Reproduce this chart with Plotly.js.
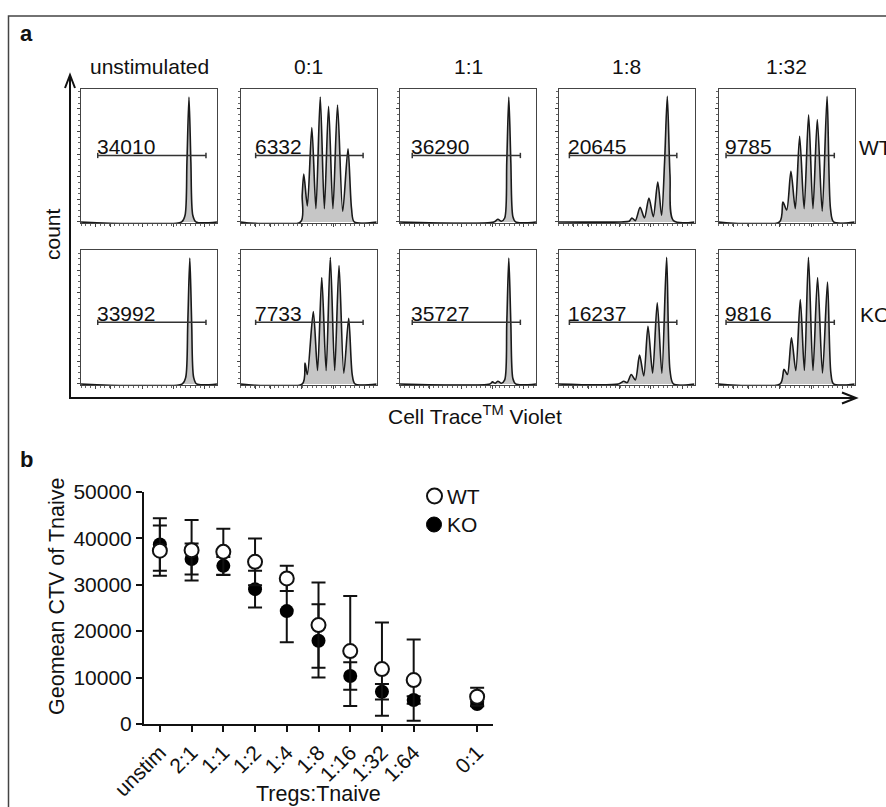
<!DOCTYPE html>
<html>
<head>
<meta charset="utf-8">
<script src="https://cdn.plot.ly/plotly-3.0.1.min.js"></script>
<style>html,body{margin:0;padding:0;background:#fff;}#chart{width:886px;height:807px;}</style>
</head>
<body>
<div id="chart"></div>
<script>
// ---------- Panel a data (histogram outlines, fraction of box) ----------
const columnTitles = ['unstimulated', '0:1', '1:1', '1:8', '1:32'];
const rowLabels = ['WT', 'KO'];
const gateValuesWT = [34010, 6332, 36290, 20645, 9785];
const gateValuesKO = [33992, 7733, 35727, 16237, 9816];

const wtUnstimX = [0, 0.74, 0.765, 0.779, 0.794, 0.808, 0.822, 0.845, 1];
const wtUnstimY = [0, 0, 0.05, 0.45, 0.94, 0.45, 0.05, 0, 0];
const wt01X = [0, 0.44, 0.452, 0.464, 0.49, 0.523, 0.553, 0.585, 0.615, 0.646, 0.678, 0.712, 0.75, 0.789, 0.815, 0.835, 1];
const wt01Y = [0, 0, 0.2, 0.36, 0.12, 0.71, 0.1, 0.94, 0.1, 0.87, 0.1, 0.88, 0.08, 0.55, 0.1, 0, 0];
const wt11X = [0, 0.69, 0.72, 0.745, 0.77, 0.785, 0.80, 0.815, 0.83, 0.85, 1];
const wt11Y = [0, 0, 0.02, 0.005, 0.03, 0.45, 0.94, 0.45, 0.04, 0, 0];
const wt18X = [0, 0.46, 0.52, 0.54, 0.565, 0.60, 0.632, 0.665, 0.697, 0.73, 0.758, 0.78, 0.80, 0.82, 0.845, 1];
const wt18Y = [0, 0, 0.005, 0.03, 0.01, 0.11, 0.03, 0.18, 0.04, 0.30, 0.05, 0.45, 0.945, 0.35, 0.01, 0];
const wt132X = [0, 0.447, 0.472, 0.50, 0.531, 0.563, 0.595, 0.628, 0.661, 0.693, 0.725, 0.761, 0.797, 0.822, 0.845, 1];
const wt132Y = [0, 0, 0.15, 0.09, 0.38, 0.1, 0.645, 0.1, 0.805, 0.1, 0.77, 0.08, 0.945, 0.1, 0, 0];

const koUnstimX = [0, 0.745, 0.77, 0.785, 0.80, 0.814, 0.828, 0.85, 1];
const koUnstimY = [0, 0, 0.05, 0.45, 0.94, 0.45, 0.05, 0, 0];
const ko01X = [0, 0.453, 0.473, 0.49, 0.534, 0.565, 0.596, 0.628, 0.659, 0.691, 0.723, 0.758, 0.794, 0.82, 0.84, 1];
const ko01Y = [0, 0, 0.155, 0.07, 0.54, 0.1, 0.795, 0.1, 0.945, 0.1, 0.884, 0.08, 0.49, 0.07, 0, 0];
const ko11X = [0, 0.66, 0.68, 0.70, 0.72, 0.745, 0.77, 0.785, 0.80, 0.815, 0.83, 0.85, 1];
const ko11Y = [0, 0, 0.015, 0.005, 0.02, 0.005, 0.03, 0.45, 0.94, 0.45, 0.04, 0, 0];
const ko18X = [0, 0.44, 0.48, 0.505, 0.535, 0.565, 0.596, 0.627, 0.658, 0.692, 0.726, 0.76, 0.795, 0.82, 0.845, 1];
const ko18Y = [0, 0, 0.02, 0.01, 0.07, 0.03, 0.215, 0.06, 0.43, 0.08, 0.605, 0.08, 0.945, 0.1, 0, 0];
const ko132X = [0, 0.452, 0.48, 0.505, 0.535, 0.567, 0.60, 0.63, 0.66, 0.693, 0.727, 0.763, 0.80, 0.825, 0.845, 1];
const ko132Y = [0, 0, 0.11, 0.07, 0.345, 0.1, 0.63, 0.1, 0.945, 0.1, 0.795, 0.08, 0.76, 0.08, 0, 0];

// ---------- Panel b data ----------
const ratios = ['unstim', '2:1', '1:1', '1:2', '1:4', '1:8', '1:16', '1:32', '1:64', '0:1'];
const ratioSlot = [0, 1, 2, 3, 4, 5, 6, 7, 8, 10];
const wtMean = [37300, 37400, 37050, 34900, 31340, 21300, 15700, 11830, 9460, 5880];
const wtErr  = [5400, 6500, 5000, 5030, 2700, 9170, 11830, 10040, 8750, 1930];
const koMean = [38650, 35500, 34040, 29030, 24300, 17910, 10330, 6950, 5160, 4300];
const koErr  = [5650, 3340, 1900, 3940, 6730, 7890, 2940, 1650, 800, 500];

// ---------- helpers ----------
const W = 886, H = 807;
const px = x => x / W;
const py = y => 1 - y / H;
const FONT = 'Liberation Sans, Arial, Helvetica, sans-serif';

const histRows = [
  [[wtUnstimX, wtUnstimY], [wt01X, wt01Y], [wt11X, wt11Y], [wt18X, wt18Y], [wt132X, wt132Y]],
  [[koUnstimX, koUnstimY], [ko01X, ko01Y], [ko11X, ko11Y], [ko18X, ko18Y], [ko132X, ko132Y]]
];
const gateRows = [gateValuesWT, gateValuesKO];

const boxLeft = [81, 240.7, 400, 558.5, 718.7];
const boxW = 136;
const rowTop = [89, 250];
const rowBottom = [223, 385];
const gateStart = [0.123, 0.11, 0.09, 0.08, 0.054];
const gateEnd = [0.919, 0.90, 0.885, 0.87, 0.85];
const gateY = [0.50, 0.46];

const traces = [];
const layout = {
  width: W, height: H,
  margin: {l: 0, r: 0, t: 0, b: 0},
  paper_bgcolor: '#fff', plot_bgcolor: 'rgba(0,0,0,0)',
  showlegend: false,
  font: {family: FONT, color: '#111', size: 20},
  shapes: [], annotations: []
};

let k = 2;
for (let r = 0; r < 2; r++) {
  for (let c = 0; c < 5; c++) {
    const xa = 'xaxis' + k, ya = 'yaxis' + k;
    const xr = 'x' + k, yr = 'y' + k;
    layout[xa] = {
      domain: [px(boxLeft[c]), px(boxLeft[c] + boxW)], range: [0, 1], anchor: yr,
      showline: true, mirror: true, linecolor: '#444', linewidth: 1,
      ticks: 'outside', ticklen: 3, tickcolor: '#444', tickwidth: 1,
      tickvals: [0.11, 0.22, 0.45, 0.68, 0.91], showticklabels: false,
      minor: {ticks: 'outside', ticklen: 2, tickcolor: '#666', dtick: 0.035, tick0: 0},
      showgrid: false, zeroline: false, fixedrange: true
    };
    layout[ya] = {
      domain: [py(rowBottom[r]), py(rowTop[r])], range: [-0.008, 1], anchor: xr,
      showline: true, mirror: true, linecolor: '#444', linewidth: 1,
      ticks: 'outside', ticklen: 3, tickcolor: '#444', tickwidth: 1,
      dtick: 0.17, tick0: 0, showticklabels: false,
      minor: {ticks: 'outside', ticklen: 2, tickcolor: '#666', dtick: 0.0425, tick0: 0},
      showgrid: false, zeroline: false, fixedrange: true
    };
    const [hx, hy] = histRows[r][c];
    traces.push({
      type: 'scatter', mode: 'lines', x: hx, y: hy, xaxis: xr, yaxis: yr,
      line: {color: '#1a1a1a', width: 1.6, shape: 'spline', smoothing: 0.8},
      fill: 'tozeroy', fillcolor: '#c6c6c6', hoverinfo: 'skip'
    });
    // gate
    const g0 = gateStart[c], g1 = gateEnd[c], gy = gateY[r];
    const gl = {color: '#333', width: 1.5};
    layout.shapes.push({type: 'line', xref: xr, yref: yr, x0: g0, x1: g1, y0: gy, y1: gy, line: gl});
    layout.shapes.push({type: 'line', xref: xr, yref: yr, x0: g0, x1: g0, y0: gy - 0.02, y1: gy + 0.02, line: gl});
    layout.shapes.push({type: 'line', xref: xr, yref: yr, x0: g1, x1: g1, y0: gy - 0.02, y1: gy + 0.02, line: gl});
    layout.annotations.push({
      xref: xr, yref: yr, x: g0, y: gy, xanchor: 'left', yanchor: 'bottom',
      text: String(gateRows[r][c]), showarrow: false, xshift: -3, yshift: -5,
      font: {size: 21, color: '#111', family: FONT}
    });
    if (r === 0) {
      layout.annotations.push({
        xref: 'paper', yref: 'paper', x: px(boxLeft[c] + boxW / 2), y: py(66),
        xanchor: 'center', yanchor: 'middle', text: columnTitles[c], showarrow: false,
        font: {size: 21, color: '#111', family: FONT}
      });
    }
    k++;
  }
}

// row labels (cut by the right edge as in the reference)
layout.annotations.push({xref: 'paper', yref: 'paper', x: px(857), y: py(147), xanchor: 'left', yanchor: 'middle',
  text: rowLabels[0], showarrow: false, font: {size: 21, color: '#111', family: FONT}});
layout.annotations.push({xref: 'paper', yref: 'paper', x: px(858), y: py(314), xanchor: 'left', yanchor: 'middle',
  text: rowLabels[1], showarrow: false, font: {size: 21, color: '#111', family: FONT}});

// big axes arrows for panel a
const ax = {color: '#111', width: 2};
layout.shapes.push({type: 'line', xref: 'paper', yref: 'paper', x0: px(70), x1: px(70), y0: py(398), y1: py(75), line: ax});
layout.shapes.push({type: 'line', xref: 'paper', yref: 'paper', x0: px(69), x1: px(855), y0: py(398), y1: py(398), line: ax});
layout.shapes.push({type: 'path', xref: 'paper', yref: 'paper',
  path: `M ${px(65)} ${py(88)} L ${px(70)} ${py(75)} L ${px(75)} ${py(88)}`, line: ax});
layout.shapes.push({type: 'path', xref: 'paper', yref: 'paper',
  path: `M ${px(842)} ${py(392.5)} L ${px(856)} ${py(398)} L ${px(842)} ${py(403.5)}`, line: ax});

layout.annotations.push({xref: 'paper', yref: 'paper', x: px(52), y: py(234), textangle: -90,
  xanchor: 'center', yanchor: 'middle', text: 'count', showarrow: false, font: {size: 21, color: '#111', family: FONT}});
layout.annotations.push({xref: 'paper', yref: 'paper', x: px(475), y: py(415),
  xanchor: 'center', yanchor: 'middle', text: 'Cell Trace<sup>TM</sup> Violet', showarrow: false,
  font: {size: 21, color: '#111', family: FONT}});

// panel letters
layout.annotations.push({xref: 'paper', yref: 'paper', x: px(18), y: py(33), xanchor: 'left', yanchor: 'middle',
  text: '<b>a</b>', showarrow: false, font: {size: 22, color: '#111', family: FONT}});
layout.annotations.push({xref: 'paper', yref: 'paper', x: px(18), y: py(459), xanchor: 'left', yanchor: 'middle',
  text: '<b>b</b>', showarrow: false, font: {size: 22, color: '#111', family: FONT}});

// outer frame
layout.shapes.push({type: 'rect', xref: 'paper', yref: 'paper', x0: px(8.5), x1: px(900), y0: py(16), y1: py(830),
  line: {color: '#444', width: 1.5}, fillcolor: 'rgba(0,0,0,0)', layer: 'below'});

// ---------- Panel b ----------
layout.xaxis = {
  domain: [px(144), px(493)], range: [-0.5, 10.5], anchor: 'y',
  tickvals: ratioSlot, ticktext: ratios, tickangle: -45,
  ticks: 'outside', ticklen: 6, tickwidth: 2, tickcolor: '#111',
  showline: true, linewidth: 2, linecolor: '#111', showgrid: false, zeroline: false,
  tickfont: {size: 21, color: '#111', family: FONT}, fixedrange: true
};
layout.yaxis = {
  domain: [py(724), py(491.7)], range: [0, 50000], anchor: 'x',
  tickvals: [0, 10000, 20000, 30000, 40000, 50000], tickformat: 'd',
  ticks: 'outside', ticklen: 6, tickwidth: 2, tickcolor: '#111',
  showline: true, linewidth: 2, linecolor: '#111', showgrid: false, zeroline: false,
  tickfont: {size: 21, color: '#111', family: FONT}, fixedrange: true
};
traces.push({
  type: 'scatter', mode: 'markers', name: 'KO', x: ratioSlot, y: koMean, xaxis: 'x', yaxis: 'y',
  marker: {symbol: 'circle', size: 14, color: '#000'},
  error_y: {type: 'data', array: koErr, visible: true, color: '#111', thickness: 2, width: 7},
  cliponaxis: false, hoverinfo: 'skip'
});
traces.push({
  type: 'scatter', mode: 'markers', name: 'WT', x: ratioSlot, y: wtMean, xaxis: 'x', yaxis: 'y',
  marker: {symbol: 'circle', size: 14, color: '#fff', line: {color: '#111', width: 2}},
  error_y: {type: 'data', array: wtErr, visible: true, color: '#111', thickness: 2, width: 7},
  cliponaxis: false, hoverinfo: 'skip'
});

layout.annotations.push({xref: 'paper', yref: 'paper', x: px(57), y: py(597), textangle: -90,
  xanchor: 'center', yanchor: 'middle', text: 'Geomean CTV of Tnaive', showarrow: false,
  font: {size: 21.5, color: '#111', family: FONT}});
layout.annotations.push({xref: 'paper', yref: 'paper', x: px(318), y: py(794),
  xanchor: 'center', yanchor: 'middle', text: 'Tregs:Tnaive', showarrow: false,
  font: {size: 21.5, color: '#111', family: FONT}});

// legend (manual)
layout.shapes.push({type: 'circle', xref: 'paper', yref: 'paper', x0: px(427), x1: px(442), y0: py(503.5), y1: py(488.5),
  line: {color: '#111', width: 2}, fillcolor: '#fff'});
layout.shapes.push({type: 'circle', xref: 'paper', yref: 'paper', x0: px(426.5), x1: px(441.5), y0: py(532), y1: py(517),
  line: {color: '#000', width: 1}, fillcolor: '#000'});
layout.annotations.push({xref: 'paper', yref: 'paper', x: px(445), y: py(496), xanchor: 'left', yanchor: 'middle',
  text: 'WT', showarrow: false, font: {size: 21, color: '#111', family: FONT}});
layout.annotations.push({xref: 'paper', yref: 'paper', x: px(445), y: py(524), xanchor: 'left', yanchor: 'middle',
  text: 'KO', showarrow: false, font: {size: 21, color: '#111', family: FONT}});

Plotly.newPlot('chart', traces, layout, {staticPlot: true, displayModeBar: false});
</script>
</body>
</html>
